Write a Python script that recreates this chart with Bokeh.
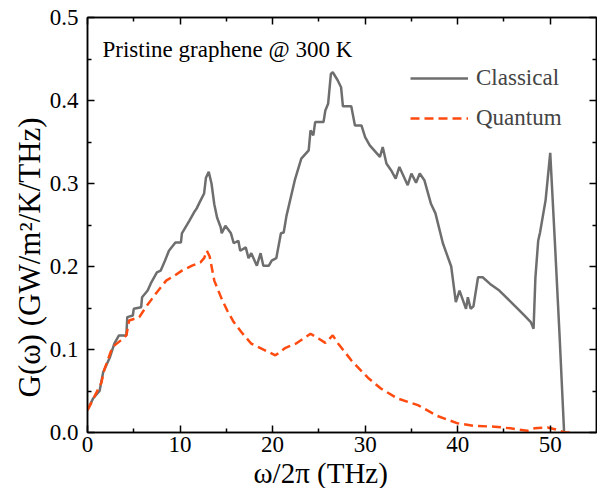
from bokeh.plotting import figure
from bokeh.models import LinearAxis, Range1d, FixedTicker, Label, Legend, LegendItem, CustomJSTickFormatter, Title
from bokeh.embed import file_html
from bokeh.resources import INLINE

# Classical G(omega)
freq_classical = [0, 0.6, 1.3, 1.7, 2.4, 2.9, 3.4, 4.2, 4.3, 4.9, 5.0, 5.8, 5.9, 6.5, 6.9, 7.5, 7.9, 8.3, 8.8,
                  9.5, 10.1, 10.2, 11.0, 11.5, 11.8, 12.1, 12.6, 12.8, 13.1, 13.4, 13.7, 14.0, 14.4, 14.5, 14.9,
                  15.5, 15.8, 16.3, 16.5, 17.1, 17.4, 17.7, 18.3, 18.7, 19.0, 19.6, 19.9, 20.4, 20.9, 21.2,
                  21.5, 22.4, 23.1, 23.9, 24.1, 24.4, 24.6, 25.5, 25.7, 26.0, 26.3, 26.5, 27.0, 27.4, 27.6,
                  28.5, 28.9, 29.6, 30.0, 30.5, 31.6, 31.9, 32.3, 32.8, 33.3, 33.7, 34.6, 35.0, 35.5, 35.9,
                  36.4, 37.1, 37.6, 37.8, 38.4, 39.3, 39.8, 40.2, 40.9, 41.1, 41.4, 41.7, 42.2, 42.7, 43.5,
                  44.5, 45.6, 46.5, 47.2, 47.9, 48.2, 48.4, 48.7, 48.9, 49.5, 50.0, 50.5, 51.0, 51.5]
g_classical = [0.027, 0.041, 0.050, 0.073, 0.090, 0.107, 0.117, 0.117, 0.139, 0.141, 0.149, 0.151, 0.163, 0.171,
               0.181, 0.193, 0.195, 0.205, 0.219, 0.229, 0.229, 0.240, 0.255, 0.265, 0.270, 0.277, 0.288, 0.307,
               0.314, 0.300, 0.275, 0.259, 0.247, 0.240, 0.249, 0.240, 0.228, 0.231, 0.219, 0.223, 0.210,
               0.216, 0.201, 0.216, 0.201, 0.201, 0.207, 0.210, 0.240, 0.241, 0.261, 0.304, 0.330, 0.340,
               0.364, 0.358, 0.374, 0.374, 0.388, 0.396, 0.432, 0.434, 0.425, 0.416, 0.393, 0.393, 0.370,
               0.370, 0.356, 0.346, 0.332, 0.344, 0.324, 0.316, 0.306, 0.320, 0.298, 0.312, 0.301, 0.312,
               0.304, 0.276, 0.264, 0.255, 0.228, 0.200, 0.157, 0.171, 0.149, 0.163, 0.149, 0.152, 0.187,
               0.187, 0.179, 0.171, 0.159, 0.149, 0.141, 0.133, 0.125, 0.187, 0.231, 0.241, 0.280, 0.337,
               0.230, 0.119, 0.0]

# Quantum G(omega)
freq_quantum = [0, 0.6, 1.5, 1.8, 2.7, 3.6, 4.2, 4.5, 5.6, 6.3, 7.5, 8.5, 9.4, 10.2, 11.3, 12.2, 12.6, 12.9,
                13.2, 13.7, 14.5, 15.1, 15.8, 16.7, 17.7, 18.8, 20.3, 21.4, 22.5, 24.1, 25.0, 25.7, 26.5,
                27.1, 28.5, 30.3, 31.7, 33.5, 35.7, 37.8, 40.0, 41.8, 44.0, 45.7, 47.5, 48.3, 49.7, 50.5,
                51.6, 52.2]
g_quantum = [0.027, 0.040, 0.060, 0.075, 0.103, 0.111, 0.117, 0.135, 0.139, 0.151, 0.169, 0.183, 0.189, 0.195,
             0.201, 0.205, 0.210, 0.219, 0.212, 0.183, 0.161, 0.147, 0.133, 0.120, 0.107, 0.101, 0.093, 0.102,
             0.107, 0.119, 0.113, 0.108, 0.117, 0.107, 0.087, 0.066, 0.053, 0.041, 0.033, 0.020, 0.011,
             0.008, 0.007, 0.005, 0.002, 0.005, 0.006, 0.004, 0.0, 0.0]

x_ticks = [0, 10, 20, 30, 40, 50]
x_minor = [5, 15, 25, 35, 45]
y_ticks = [0.0, 0.1, 0.2, 0.3, 0.4, 0.5]
y_minor = [0.05, 0.15, 0.25, 0.35, 0.45]

x_title = "ω/2π (THz)"
y_title = "G(ω) (GW/m²/K/THz)"
note = "Pristine graphene @ 300 K"

FONT = "'Liberation Serif', 'Times New Roman', serif"

p = figure(width=597, height=488, output_backend="svg", toolbar_location=None,
           x_range=Range1d(0, 55), y_range=Range1d(0, 0.5),
           min_border_left=87, min_border_right=1, min_border_top=17, min_border_bottom=56)
p.xgrid.visible = False
p.ygrid.visible = False
p.outline_line_color = "black"
p.outline_line_width = 1.5
p.background_fill_color = "white"
p.border_fill_color = "white"

def style_axis(ax, ticks, minor, show_labels=True):
    ax.ticker = FixedTicker(ticks=ticks, minor_ticks=minor)
    ax.axis_line_color = "black"
    ax.axis_line_width = 1.5
    ax.major_tick_in = 7
    ax.major_tick_out = 0
    ax.minor_tick_in = 4
    ax.minor_tick_out = 0
    ax.major_tick_line_width = 1.5
    ax.minor_tick_line_width = 1.5
    ax.major_label_text_font = FONT
    ax.major_label_text_font_size = "23px"
    ax.major_label_text_color = "black"
    if not show_labels:
        ax.formatter = CustomJSTickFormatter(code="return ''")
        ax.major_label_standoff = 0

xa = p.xaxis[0]
style_axis(xa, x_ticks, x_minor)
xa.major_label_standoff = 4

ya = p.yaxis[0]
style_axis(ya, y_ticks, y_minor)
ya.formatter = CustomJSTickFormatter(code="return tick.toFixed(1)")
ya.major_label_standoff = 9

top = LinearAxis()
style_axis(top, x_ticks, x_minor, show_labels=False)
p.add_layout(top, "above")
right = LinearAxis()
style_axis(right, y_ticks, y_minor, show_labels=False)
p.add_layout(right, "right")

# axis titles (placed like the reference, slightly off-centre)
p.add_layout(Title(text=x_title, align="left", offset=166, text_font=FONT, text_font_size="29px",
                   text_font_style="normal", text_color="black", standoff=0), "below")
p.add_layout(Title(text=y_title, align="left", offset=35, text_font=FONT, text_font_size="31px",
                   text_font_style="normal", text_color="black", standoff=0), "left")

r_c = p.line(freq_classical, g_classical, line_color="#6e6e6e", line_width=2.5)
r_q = p.line(freq_quantum, g_quantum, line_color="#ff4a10", line_width=2.5, line_dash="9 5")

legend = Legend(items=[LegendItem(label="Classical", renderers=[r_c]),
                       LegendItem(label="Quantum", renderers=[r_q])])
legend.border_line_color = None
legend.background_fill_alpha = 0
legend.label_text_font = FONT
legend.label_text_font_size = "23px"
legend.glyph_width = 58
legend.glyph_height = 30
legend.label_height = 30
legend.label_standoff = 8
legend.spacing = 10
legend.margin = 0
legend.padding = 0
legend.location = (323, 299)
p.add_layout(legend, "center")

p.add_layout(Label(x=15, y=383, x_units="screen", y_units="screen",
                   text=note, text_font=FONT, text_baseline="alphabetic",
                   text_font_size="23px", text_color="black"))

open("out.html", "w").write(file_html(p, INLINE))
